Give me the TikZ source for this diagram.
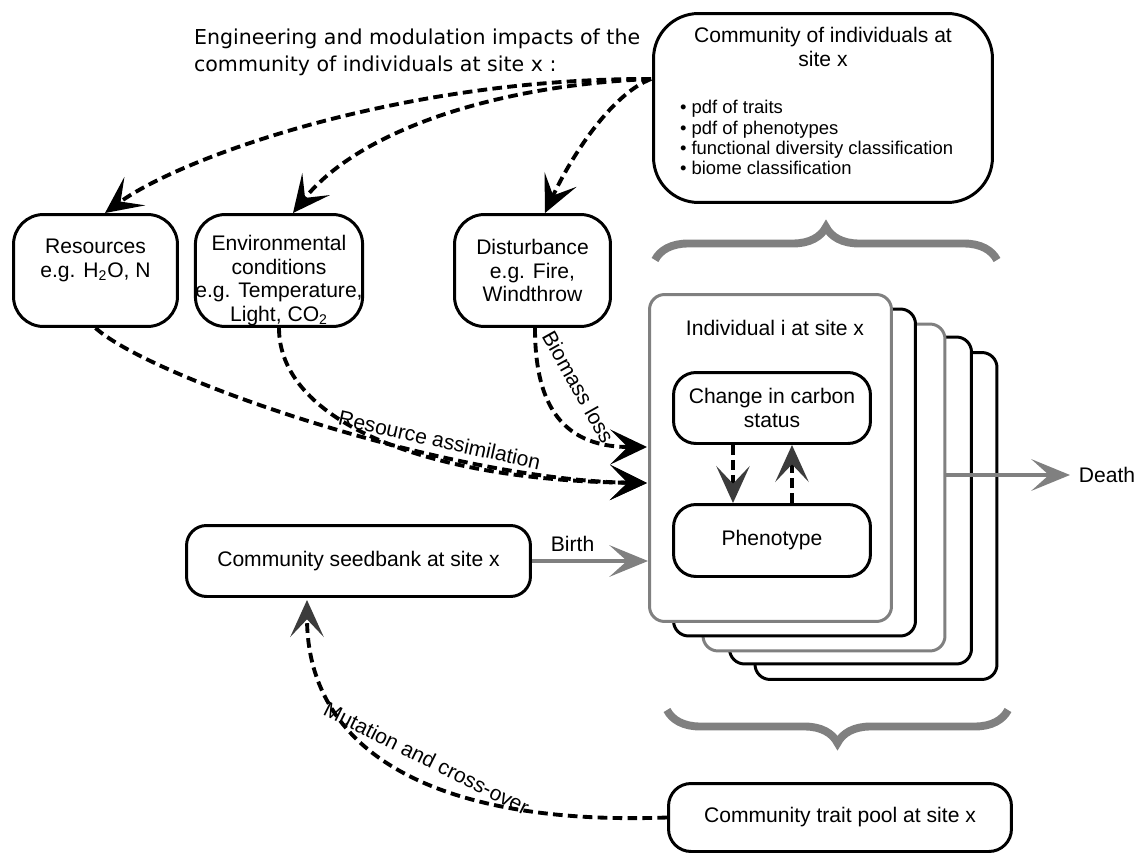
\documentclass[tikz,border=0pt]{standalone}
\usepackage{fontspec}
\setmainfont{Liberation Sans}
\newfontfamily\headfont{DejaVu Sans}
\usetikzlibrary{arrows.meta,decorations.pathreplacing}
\definecolor{boxgray}{HTML}{808080}
\definecolor{headgray}{HTML}{3C3C3C}
\tikzset{
  dasharrow/.style={line width=2.2pt,dash pattern=on 5.5pt off 3pt,-{Stealth[length=21pt,width=20pt,inset=10pt]}},
  darkarrow/.style={line width=2.2pt,dash pattern=on 5.5pt off 3pt,-{Stealth[length=21pt,width=19pt,inset=10pt,color=headgray]}},
  grayarrow/.style={line width=2.2pt,draw=boxgray,-{Stealth[length=22pt,width=18pt,inset=10pt]}},
  curly/.style={draw=boxgray,line width=4.5pt,decorate,decoration={brace,amplitude=0.66cm}}
}
\begin{document}
\begin{tikzpicture}[x=0.02cm,y=-0.02cm]
\useasboundingbox (0,0) rectangle (1137,855);

\begin{scope}[every node/.style={draw,line width=1.7pt,fill=white,align=center,inner sep=1pt,font=\fontsize{12}{13.5}\selectfont}]
    \node[rounded corners=0.9cm,minimum width=6.78cm,minimum height=3.78cm] (comm) at (823,108)
        {\begin{minipage}{6.4cm}\centering Community of individuals at\\ site x\par\vspace{0.55cm}
         \raggedright\leftskip=0.34cm\fontsize{10.5}{11.5}\selectfont
         • pdf of traits\\ • pdf of phenotypes\\ • functional diversity classification\\ • biome classification\par\vspace*{0.28cm}\end{minipage}};
    \node[rounded corners=0.6cm,minimum width=3.28cm,minimum height=2.24cm,text depth=14pt] (res) at (95.5,270.5)
        {Resources\\e.g. H\textsubscript{2}O, N};
    \node[rounded corners=0.6cm,minimum width=3.3cm,minimum height=2.24cm,inner xsep=0pt,text height=58pt,text depth=0pt] (env) at (279,270.5)
        {Environmental\\conditions\\e.g. Temperature,\\Light, CO\textsubscript{2}};
    \node[rounded corners=0.6cm,minimum width=3.12cm,minimum height=2.24cm] (dist) at (532.5,270.5)
        {Disturbance\\e.g. Fire,\\Windthrow};

    \foreach \nm/\cx/\cy/\col in {ind5/876/516/black,ind4/850.5/500.5/black,ind3/824/487.5/boxgray,ind2/794.5/472.5/black}
        \node[draw=\col,rounded corners=0.3cm,minimum width=4.84cm,minimum height=6.54cm] (\nm) at (\cx,\cy) {};
    \node[draw=boxgray,rounded corners=0.3cm,minimum width=4.84cm,minimum height=6.54cm] (ind) at (770.5,458) {};

    \node[rounded corners=0.45cm,minimum width=3.94cm,minimum height=1.42cm] (carbon) at (772,408) {Change in carbon\\status};
    \node[rounded corners=0.45cm,minimum width=3.94cm,minimum height=1.44cm] (pheno) at (772,540.5) {Phenotype};
    \node[rounded corners=0.4cm,minimum width=6.88cm,minimum height=1.42cm] (seed) at (358.5,561) {Community seedbank at site x};
    \node[rounded corners=0.45cm,minimum width=6.86cm,minimum height=1.36cm] (trait) at (840,817.5) {Community trait pool at site x};
\end{scope}

\begin{scope}[every node/.style={font=\fontsize{12}{13.5}\selectfont,inner sep=1pt}]
    \node[anchor=west,align=left,font=\headfont\fontsize{11.7}{15.4}\selectfont] (head) at (192,52)
        {Engineering and modulation impacts of the\\community of individuals at site x :};
    \node (indtitle) at (775,328) {Individual i at site x};

    \coordinate (commout) at (651,79);
    \coordinate (indis) at (647,447);
    \coordinate (inres) at (647,483);
    \coordinate (seedin) at (307,600);
    \coordinate (deathend) at (1070,475);

    \draw[dasharrow] (commout) .. controls +(-251,-1) and +(75,-55) .. ([xshift=0.19cm]res.north);
    \draw[dasharrow] (commout) .. controls +(-151,6) and +(67,-84) .. ([xshift=0.28cm]env.north);
    \draw[dasharrow] (commout) .. controls +(-41,16) and +(25,-54) .. ([xshift=0.25cm]dist.north);

    \draw[dasharrow] (res.south) .. controls +(55,50) and +(-200,-3) .. (inres)
        node[pos=0.68,sloped,above=2pt] {Resource assimilation};
    \draw[dasharrow] (env.south) .. controls +(0,90) and +(-230,-3) .. (inres);
    \draw[dasharrow] ([xshift=0.05cm]dist.south) .. controls +(0,70) and +(-90,0) .. (indis)
        node[pos=0.42,sloped,above=12pt] {Biomass loss};

    \draw[darkarrow] ([xshift=-0.78cm]carbon.south) -- ([xshift=-0.78cm]pheno.north);
    \draw[darkarrow] ([xshift=0.4cm]pheno.north) -- ([xshift=0.4cm]carbon.south);

    \draw[grayarrow] (seed.east) -- (ind.west |- seed.east) node[pos=0.35,above=3pt,text=black] {Birth};
    \draw[grayarrow] (ind3.east |- deathend) -- (deathend) node[right=3pt,text=black] {Death};

    \draw[darkarrow] (trait.west) .. controls +(-218,8) and +(0,160) .. (seedin)
        node[pos=0.47,sloped,above=6pt] {Mutation and cross-over};

    \draw[curly] (655,260) -- (997,260);
    \draw[curly] (1008,710) -- (667,710);
\end{scope}
\end{tikzpicture}
\end{document}
